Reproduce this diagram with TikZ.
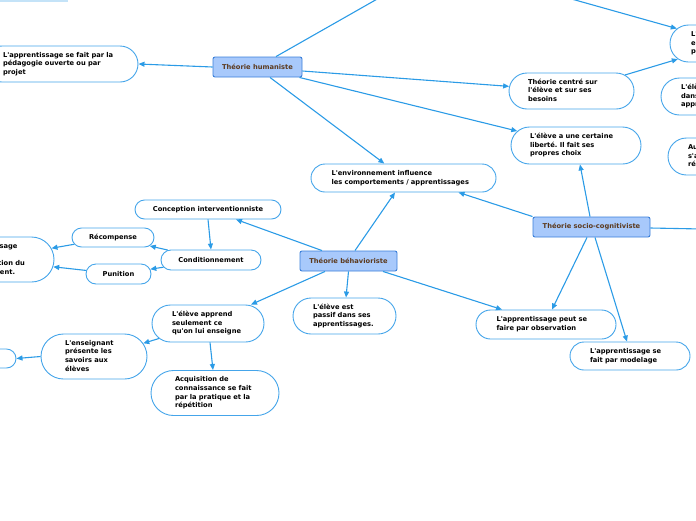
\documentclass[tikz,border=0pt]{standalone}
\usepackage{fontspec}
\setmainfont{DejaVu Sans}[Ligatures=TeXOff]
\usetikzlibrary{arrows.meta,shapes.misc,calc}
\definecolor{edgeblue}{HTML}{2B9BE6}
\definecolor{bubline}{HTML}{45A5EA}
\definecolor{mainfill}{HTML}{A8C9FB}
\definecolor{mainline}{HTML}{3A7FD9}
\definecolor{maintext}{HTML}{5C3A1E}
\definecolor{barblue}{HTML}{C4E3F8}
\newcommand{\tl}[1]{\begin{tabular}{@{}l@{}}#1\end{tabular}}
\frenchspacing
\begin{document}
\begin{tikzpicture}[x=1pt,y=-1pt,
 txt/.style={font=\bfseries\fontsize{6.7}{8.6}\selectfont},
 bub/.style={txt, rounded rectangle, draw=bubline, line width=0.9pt, fill=white, inner sep=0pt, align=left},
 mainbox/.style={txt, rectangle, rounded corners=2pt, draw=mainline, fill=mainfill, line width=0.9pt, text=maintext, inner sep=0pt},
 conn/.style={draw=edgeblue, line width=1.1pt, -{Triangle[length=6pt,width=5pt]}},
 plainline/.style={draw=edgeblue, line width=1.1pt}]
\useasboundingbox (0,0) rectangle (696,520);
\clip (0,0) rectangle (696,520);
\fill[barblue] (0,0) rectangle (68,1.5);

% main theories
\node[mainbox, minimum width=89pt, minimum height=20pt] (hum) at (257.5,67) {Théorie humaniste};
\node[mainbox, minimum width=97pt, minimum height=20pt] (beh) at (348.5,261) {Théorie béhavioriste};
\node[mainbox, minimum width=117pt, minimum height=20pt] (soc) at (591.5,227) {Théorie socio-cognitiviste};

% bubbles
\node[bub, minimum width=154pt, minimum height=36pt, text width=116pt] (ped) at (61,64) {\tl{L'apprentissage se fait par la\\pédagogie ouverte ou par\\projet}};
\node[bub, minimum width=125pt, minimum height=36pt, text width=87pt] (centre) at (571.5,91) {\tl{Théorie centré sur\\l'élève et sur ses\\besoins}};
\node[bub, minimum width=130pt, minimum height=37pt, text width=92pt] (lib) at (576,145.5) {\tl{L'élève a une certaine\\liberté. Il fait ses\\propres choix}};
\node[bub, minimum width=185pt, minimum height=28pt, text width=144pt] (env) at (403.5,178) {\tl{L'environnement influence\\les comportements / apprentissages}};
\node[bub, minimum width=120pt, minimum height=37pt, text width=78pt] (ra) at (730,43.5) {\tl{L'élève est\\en mesure de\\progresser}};
\node[bub, minimum width=120pt, minimum height=37pt, text width=80pt] (rb) at (721,96.5) {\tl{L'élève est actif\\dans ses\\apprentissages}};
\node[bub, minimum width=120pt, minimum height=37pt, text width=80pt] (rc) at (728,156.5) {\tl{Autonomie :\\s'autoévaluer,\\réguler}};
\node[bub, minimum width=134pt, minimum height=45pt, text width=60pt] (leftn) at (-13,259.5) {\tl{L'apprentissage\\est\\la modification du\\comportement.}};
\node[bub, minimum width=82pt, minimum height=19pt, align=center] (recomp) at (113,237.5) {Récompense};
\node[bub, minimum width=65pt, minimum height=20pt, align=center] (pun) at (118.5,274) {Punition};
\node[bub, minimum width=100pt, minimum height=20pt, align=center] (cond) at (211,260) {Conditionnement};
\node[bub, minimum width=146pt, minimum height=19pt, align=center] (concep) at (208,209.5) {Conception interventionniste};
\node[bub, minimum width=112pt, minimum height=37pt, text width=72pt] (apprend) at (208,323.5) {\tl{L'élève apprend\\seulement ce\\qu'on lui enseigne}};
\node[bub, minimum width=106pt, minimum height=45pt, text width=58pt] (enseig) at (94,356.5) {\tl{L'enseignant\\présente les\\savoirs aux\\élèves}};
\node[bub, minimum width=76pt, minimum height=19pt] (smallleft) at (-22,358.5) {};
\node[bub, minimum width=128pt, minimum height=45pt, text width=80pt] (acq) at (215,393) {\tl{Acquisition de\\connaissance se fait\\par la pratique et la\\répétition}};
\node[bub, minimum width=103pt, minimum height=36pt, text width=63pt] (passif) at (344.5,316) {\tl{L'élève est\\passif dans ses\\apprentissages.}};
\node[bub, minimum width=140pt, minimum height=29pt, text width=99pt] (obs) at (546,324.5) {\tl{L'apprentissage peut se\\faire par observation}};
\node[bub, minimum width=120pt, minimum height=28pt, text width=80pt] (model) at (630,356) {\tl{L'apprentissage se\\fait par modelage}};

% free ends
\coordinate (humtop) at (379,-2);
\coordinate (topsrc) at (568,-2);
\coordinate (socend) at (702,229);

% connectors
\draw[conn] (hum.west) -- (ped.east);
\draw[plainline] ([xshift=18.5pt]hum.north) -- (humtop);
\draw[conn] ([yshift=-4pt]hum.east) -- (centre);
\draw[conn] ([xshift=-3pt]hum.south east) -- (lib);
\draw[conn] ([xshift=12.5pt]hum.south) -- (env);
\draw[conn] (topsrc) -- (ra);
\draw[conn] (centre) -- (ra);
\draw[conn] ([xshift=-1.5pt]soc.north) -- ([xshift=4pt]lib.south);
\draw[conn] (soc.north west) -- ([xshift=55pt]env.south);
\draw[plainline] ([yshift=-1pt]soc.east) -- (socend);
\draw[conn] ([xshift=-4.5pt]soc.south) -- ([xshift=6pt]obs.north);
\draw[conn] ([xshift=3.5pt]soc.south) -- ([xshift=-3pt]model.north);
\draw[conn] ([xshift=6.5pt]beh.north) -- ([xshift=-8.5pt]env.south);
\draw[conn] ([xshift=-26.5pt]beh.north) -- ([xshift=28pt]concep.south);
\draw[conn] (beh.south) -- ([xshift=1.5pt]passif.north);
\draw[conn] ([xshift=34.5pt]beh.south) -- ([xshift=-44pt]obs.north);
\draw[conn] ([xshift=-23.5pt]beh.south) -- ([xshift=43pt]apprend.north);
\draw[conn] (concep.south) -- (cond.north);
\draw[conn] (cond) -- (recomp);
\draw[conn] (cond) -- (pun);
\draw[conn] (recomp) -- (leftn);
\draw[conn] (pun) -- (leftn);
\draw[conn] (apprend.197) -- (enseig.15);
\draw[conn] ([xshift=2pt]apprend.south) -- ([xshift=-2pt]acq.north);
\draw[conn] (enseig.west) -- (smallleft.east);
\end{tikzpicture}
\end{document}
